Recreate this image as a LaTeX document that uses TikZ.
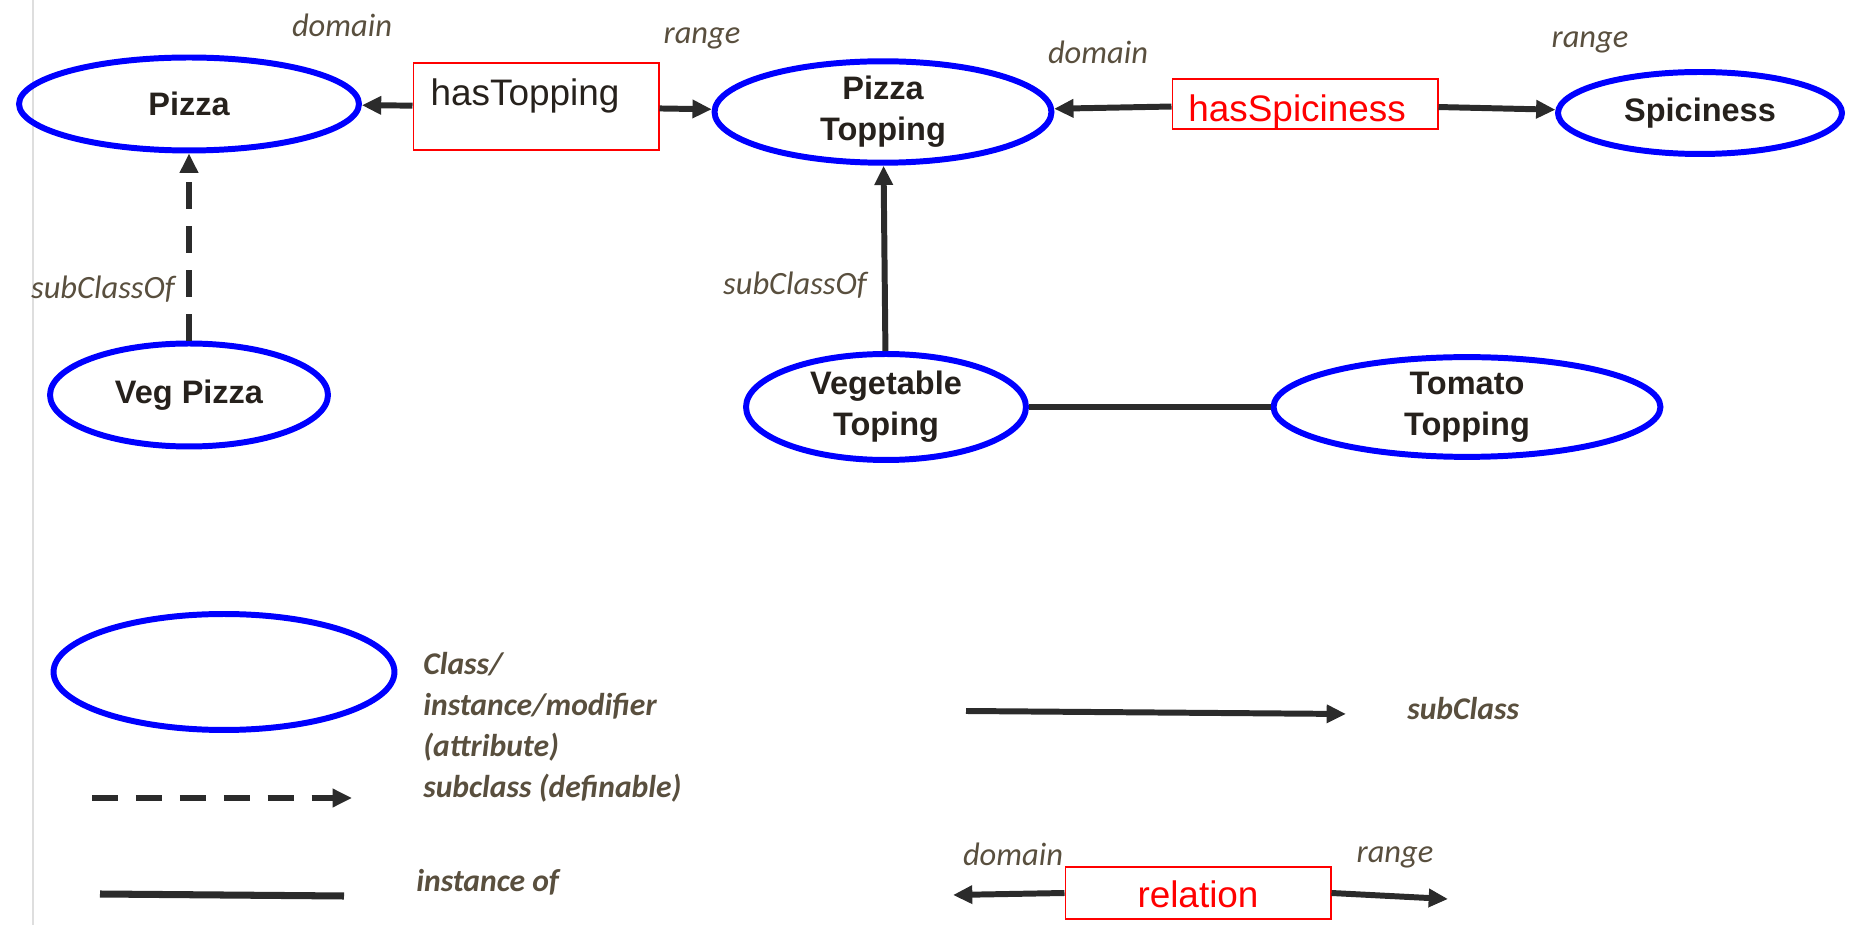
\documentclass[tikz,border=0pt]{standalone}
\usepackage{fontspec}
\setmainfont{Liberation Sans}
\newfontfamily\labelfont{Carlito}
\usepackage[]{xcolor}
\usetikzlibrary{shapes.geometric,arrows.meta}
\definecolor{ringblue}{RGB}{0,0,255}
\definecolor{edgegray}{RGB}{43,43,43}
\definecolor{labelbrown}{RGB}{89,79,62}
\definecolor{nametext}{RGB}{38,33,28}
\definecolor{marginline}{RGB}{222,222,222}

\begin{document}
\begin{tikzpicture}[x=0.02cm, y=-0.02cm, >={Triangle[length=11pt,width=10pt]},
    cls/.style={ellipse, draw=ringblue, line width=3.4pt, align=center, text=nametext,
      font=\fontsize{18.5}{23.5}\selectfont\bfseries, inner sep=0pt},
    rel/.style={draw=red, line width=0.6pt, inner sep=0pt},
    reltext/.style={font=\fontsize{21}{25}\selectfont, inner sep=0pt, anchor=north},
    tag/.style={text=labelbrown, font=\labelfont\itshape\fontsize{18.5}{22}\selectfont},
    legtag/.style={text=labelbrown, font=\labelfont\bfseries\itshape\fontsize{18}{23.3}\selectfont,
      align=left, inner sep=0pt},
    conn/.style={->, edgegray, line width=3.4pt}]
        \useasboundingbox (0, 0) rectangle (1854, 925);
        \draw[marginline, line width=1.2pt] (33, 0) -- (33, 925);

        \node[cls, minimum width=6.8cm, minimum height=1.86cm] (pizza) at (189, 104) {Pizza};
        \node[cls, minimum width=6.74cm, minimum height=2.02cm] (ptop) at (883, 112) {Pizza\\Topping};
        \node[cls, minimum width=5.68cm, minimum height=1.64cm] (spic) at (1700, 113) {Spiciness};
        \node[cls, minimum width=5.56cm, minimum height=2.06cm] (vegpizza) at (189, 395) {Veg Pizza};
        \node[cls, minimum width=5.6cm, minimum height=2.12cm] (vegtop) at (886, 407) {Vegetable\\Toping};
        \node[cls, minimum width=7.74cm, minimum height=1.96cm] (tomato) at (1467, 407) {Tomato\\Topping};

        \node[rel, minimum width=4.92cm, minimum height=1.74cm,
          label={[reltext, text=nametext, xshift=-6.3pt, yshift=-9pt]north:hasTopping}] (hastop) at (536, 106.5) {};
        \node[rel, minimum width=5.32cm, minimum height=1cm,
          label={[reltext, text=red, xshift=-4.5pt, yshift=-9pt]north:hasSpiciness}] (hasspic) at (1305, 104) {};

        \draw[conn] (hastop) -- (pizza);
        \draw[conn] (hastop) -- (ptop);
        \draw[conn] (hasspic) -- (ptop);
        \draw[conn] (hasspic) -- (spic);
        \draw[conn, dash pattern=on 15pt off 10pt] (vegpizza) -- (pizza);
        \draw[conn] (vegtop) -- (ptop);
        \draw[edgegray, line width=3.4pt] (vegtop) -- (tomato);

        \node[tag] (domainA) at (342, 25) {domain};
        \node[tag] (rangeA) at (702, 38) {range};
        \node[tag] (domainB) at (1098, 52) {domain};
        \node[tag] (rangeB) at (1590, 42) {range};
        \node[tag] (subofA) at (103, 289) {subClassOf};
        \node[tag] (subofB) at (795, 285) {subClassOf};

        \node[cls, minimum width=6.82cm, minimum height=2.32cm] (legcls) at (224, 672) {};
        \node[legtag, anchor=north west] (legclstext) at (423, 652) {Class/\\instance/modifier\\(attribute)\\subclass (definable)};
        \coordinate (dashfrom) at (92, 798);
        \coordinate (dashto) at (352, 798);
        \draw[conn, dash pattern=on 15pt off 10pt] (dashfrom) -- (dashto);
        \coordinate (instfrom) at (100, 894);
        \coordinate (instto) at (344, 896);
        \draw[edgegray, line width=4pt] (instfrom) -- (instto);
        \node[legtag, anchor=west] (leginst) at (416, 882) {instance of};

        \coordinate (subfrom) at (966, 711);
        \coordinate (subto) at (1346, 714);
        \draw[conn] (subfrom) -- (subto);
        \node[legtag, anchor=west] (legsub) at (1407, 709) {subClass};

        \node[rel, minimum width=5.32cm, minimum height=1.04cm,
          label={[reltext, text=red, yshift=-8pt]north:relation}] (relbox) at (1198, 893) {};
        \coordinate (domtip) at (953, 895);
        \coordinate (rantip) at (1448, 899);
        \draw[conn] (relbox.west) -- (domtip);
        \draw[conn] (relbox.east) -- (rantip);
        \node[tag] (domainC) at (1013, 854) {domain};
        \node[tag] (rangeC) at (1395, 857) {range};
      \end{tikzpicture}
\end{document}
